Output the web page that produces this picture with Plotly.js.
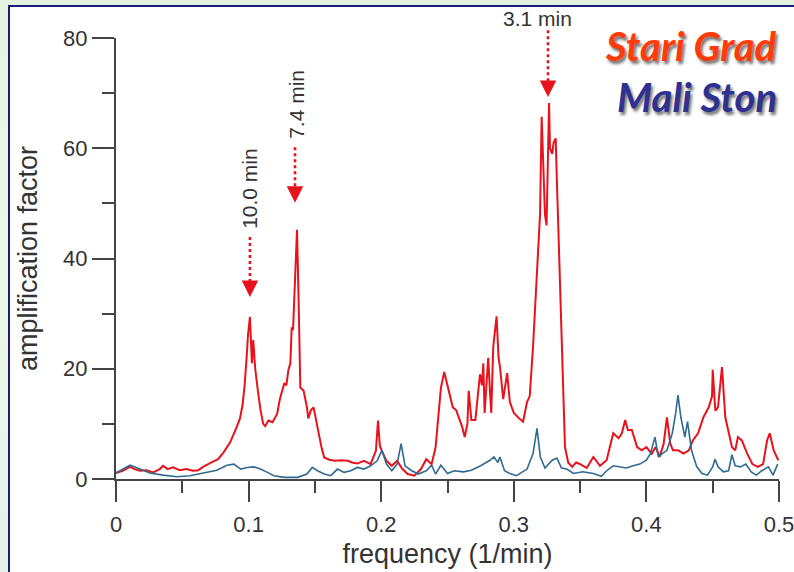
<!DOCTYPE html>
<html>
<head>
<meta charset="utf-8">
<script src="https://cdn.plot.ly/plotly-3.0.1.min.js"></script>
<style>
  html, body { margin: 0; padding: 0; }
  body { width: 794px; height: 572px; overflow: hidden; position: relative;
         background: linear-gradient(180deg, #e6f2e0 0%, #eef8e6 50%, #e3f1ea 100%); }
  #panel { position: absolute; left: 8px; top: 5px; width: 800px; height: 580px;
           background: #ffffff; border: 2px solid #1c1c7c; }
  #chart { position: absolute; left: 0; top: 0; width: 794px; height: 572px; }
</style>
</head>
<body>
<div id="panel"></div>
<div id="chart"></div>
<script>
// ---- Data ----
const stariGradFreq = [0,0.005,0.0106,0.014,0.018,0.023,0.028,0.033,0.0355,0.039,0.043,0.048,0.053,0.058,0.062,0.067,0.072,0.077,0.081,0.086,0.091,0.0935,0.0955,0.097,0.0985,0.0995,0.101,0.102,0.1025,0.1035,0.105,0.107,0.109,0.111,0.1125,0.115,0.118,0.1215,0.1236,0.127,0.1285,0.13,0.1315,0.1325,0.1335,0.135,0.1365,0.1375,0.138,0.139,0.1415,0.144,0.145,0.147,0.149,0.152,0.155,0.157,0.161,0.165,0.17,0.175,0.178,0.182,0.187,0.192,0.196,0.1976,0.199,0.2005,0.204,0.208,0.212,0.216,0.22,0.225,0.23,0.234,0.238,0.241,0.2435,0.245,0.2475,0.25,0.2525,0.254,0.2565,0.259,0.261,0.263,0.265,0.266,0.268,0.271,0.273,0.2745,0.276,0.277,0.278,0.2795,0.2807,0.282,0.283,0.2845,0.286,0.287,0.2885,0.2896,0.292,0.295,0.297,0.3,0.304,0.307,0.31,0.312,0.3145,0.317,0.3198,0.321,0.3221,0.3235,0.3247,0.3255,0.3266,0.3273,0.329,0.33,0.3316,0.3325,0.334,0.3355,0.337,0.3386,0.341,0.344,0.347,0.35,0.355,0.36,0.365,0.37,0.375,0.379,0.3815,0.384,0.386,0.389,0.393,0.3965,0.4,0.404,0.407,0.41,0.413,0.4155,0.418,0.42,0.424,0.428,0.432,0.435,0.439,0.443,0.447,0.4495,0.45,0.452,0.454,0.457,0.4595,0.462,0.4645,0.467,0.469,0.472,0.476,0.48,0.484,0.488,0.491,0.493,0.496,0.4995];
const stariGradAmp = [1.1,1.5,2.2,1.8,1.5,1.6,1.2,1.8,2.4,1.8,2.1,1.6,1.8,1.5,1.6,2.4,3.0,3.6,4.8,6.6,9.4,11,13.5,17,22,26,29.4,22,21,25.2,20,16,12.5,10,9.6,10.6,10.3,11.8,14.5,17.4,17,19.8,21,27.5,27,36,45.2,35,27,16.6,16,13,11,12.5,13,9,5.7,3.9,3.5,3.3,3.4,3.3,3.0,2.8,3.3,2.7,5.1,10.6,6,5.1,3.3,2.4,3.3,1.8,0.9,0.6,1.8,3.6,2.7,5.7,12,16.5,19.4,17,14.5,13,12.5,10.7,9.5,7.6,10,16,10.7,10.7,15,19,17,21,12,18,22,16,12,24,27,29.5,22,20.3,14.5,19.2,14,12,11,10.4,14,15,24,36,48,65.7,57,48,46,54,68.2,60,59,61,61.8,54,42,30,18,5.8,3,2.2,3,2.7,2,4,2.4,3.4,8.3,7.4,8.3,10.7,8.9,8.9,5.8,5.2,5.8,4.6,5.8,4,6.4,11.2,6.4,5.2,5.2,4.6,5.2,7,8.3,11.2,13,15,19.8,12.4,13,20.3,11.2,8.3,5.8,5.2,7.6,7,4.6,2.7,2.2,2.7,7,8.3,5.2,3.4];

const maliStonFreq = [0,0.0106,0.018,0.0256,0.0355,0.046,0.0558,0.066,0.076,0.0837,0.089,0.094,0.099,0.104,0.109,0.1143,0.119,0.127,0.137,0.144,0.148,0.152,0.157,0.162,0.167,0.172,0.177,0.182,0.187,0.192,0.197,0.2005,0.204,0.208,0.212,0.215,0.218,0.223,0.228,0.234,0.238,0.241,0.245,0.25,0.255,0.262,0.268,0.275,0.282,0.285,0.288,0.2895,0.293,0.297,0.302,0.31,0.3145,0.3175,0.32,0.3235,0.329,0.3325,0.336,0.34,0.345,0.352,0.36,0.366,0.37,0.375,0.38,0.385,0.39,0.395,0.4,0.403,0.4065,0.409,0.412,0.4155,0.4195,0.422,0.4238,0.426,0.429,0.431,0.434,0.438,0.442,0.446,0.45,0.4517,0.454,0.458,0.462,0.4645,0.467,0.471,0.475,0.479,0.483,0.487,0.492,0.4955,0.499];
const maliStonAmp = [1.1,2.5,1.8,1.1,0.7,0.4,0.6,1.1,1.6,2.5,2.7,1.8,2.1,2.2,1.8,1.2,0.6,0.3,0.3,0.9,2.1,1.5,0.9,0.6,1.8,1.2,1.5,2.1,1.8,2.4,3.3,5.2,2.7,1.5,2.7,6.4,2.4,1.5,0.9,1.5,2.5,0.9,2.5,1,1.5,1.3,1.6,2.4,3.4,4,3,4,1.5,1,0.6,1.8,4.6,9.2,4,2,3.4,3.8,2,1.8,1,1.3,1,0.5,1.5,2.4,2.2,2,2.4,2.7,3.4,4.6,7.6,4,4.6,5.2,8.3,11.8,15.2,11.2,7.6,10.4,5.2,2.2,1,0.7,2.2,3.6,2.2,1.3,1.5,4.4,2.4,2.2,2.7,1.3,0.7,1.5,2.2,0.7,2.7];

// Period annotations: label, label position, arrow start and arrow tip
const periodLabels   = ["10.0 min", "7.4 min", "3.1 min"];
const labelFreq      = [0.101, 0.1355, 0.318];
const labelAmp       = [52.8, 68.0, 83.6];
const labelAngle     = [-90, -90, 0];
const arrowFreq      = [0.101, 0.135, 0.3258];
const arrowStartAmp  = [43.9, 60.2, 81.4];
const arrowTipAmp    = [33.0, 50.1, 69.3];

const seriesNames  = ["Stari Grad", "Mali Ston"];

const xRange = [0, 0.5];
const yRange = [0, 80];

const traces = [
  { x: stariGradFreq, y: stariGradAmp, type: 'scatter', mode: 'lines', name: seriesNames[0],
    line: { color: '#e8121c', width: 2 }, hoverinfo: 'x+y' },
  { x: maliStonFreq, y: maliStonAmp, type: 'scatter', mode: 'lines', name: seriesNames[1],
    line: { color: '#2f6a90', width: 1.6 }, hoverinfo: 'x+y' }
];

const axisFont = { family: 'Liberation Sans, Arial, sans-serif', size: 22, color: '#333' };
const titleFont = { family: 'Liberation Sans, Arial, sans-serif', size: 27, color: '#333' };

const shapes = [];
const annotations = [];
for (let i = 0; i < periodLabels.length; i++) {
  // paper coordinates (value / range end) so labels above the plot stay visible
  annotations.push({
    x: labelFreq[i] / xRange[1], y: labelAmp[i] / yRange[1], xref: 'paper', yref: 'paper',
    text: periodLabels[i], textangle: labelAngle[i], showarrow: false,
    xanchor: 'center', yanchor: 'middle',
    font: { family: 'Liberation Sans, Arial, sans-serif', size: 21, color: '#333' }
  });
  shapes.push({
    type: 'line', xref: 'paper', yref: 'paper',
    x0: arrowFreq[i] / xRange[1], x1: arrowFreq[i] / xRange[1],
    y0: arrowStartAmp[i] / yRange[1], y1: (arrowTipAmp[i] + 2.5) / yRange[1],
    line: { color: '#e8121c', width: 2.6, dash: 'dot' }
  });
  annotations.push({
    x: arrowFreq[i], y: arrowTipAmp[i], xref: 'x', yref: 'y', text: '',
    showarrow: true, arrowhead: 2, arrowsize: 1.5, arrowwidth: 2.2, arrowcolor: '#e8121c',
    ax: 0, ay: -12
  });
}

annotations.push({
  xref: 'paper', yref: 'paper', x: 1.0, y: 0.982, xanchor: 'right', yanchor: 'middle',
  text: seriesNames[0], showarrow: false,
  font: { family: 'Lato, sans-serif', size: 40, color: '#ff3b0a', weight: 'bold', style: 'italic',
          shadow: '2px 3px 3px rgba(0,0,0,0.55)' }
});
annotations.push({
  xref: 'paper', yref: 'paper', x: 1.0, y: 0.866, xanchor: 'right', yanchor: 'middle',
  text: seriesNames[1], showarrow: false,
  font: { family: 'Lato, sans-serif', size: 40, color: '#2e3192', weight: 'bold', style: 'italic',
          shadow: '2px 3px 3px rgba(0,0,0,0.55)' }
});

const layout = {
  width: 794, height: 572,
  margin: { l: 116, r: 15, t: 38, b: 93 },
  paper_bgcolor: 'rgba(0,0,0,0)', plot_bgcolor: 'rgba(0,0,0,0)',
  showlegend: false,
  xaxis: {
    range: xRange, tick0: 0, dtick: 0.1, showgrid: false, zeroline: false,
    showline: true, linecolor: '#444', linewidth: 2,
    ticks: 'outside', ticklen: 21, tickwidth: 2, tickcolor: '#444',
    minor: { dtick: 0.05, ticks: 'outside', ticklen: 12, tickwidth: 2, tickcolor: '#444', showgrid: false },
    tickfont: axisFont, ticklabeloverflow: 'allow', ticklabelstandoff: 4,
    title: { text: 'frequency (1/min)', font: titleFont, standoff: 8 }
  },
  yaxis: {
    range: yRange, tick0: 0, dtick: 20, showgrid: false, zeroline: false,
    showline: true, linecolor: '#444', linewidth: 2,
    ticks: 'outside', ticklen: 22, tickwidth: 2, tickcolor: '#444',
    minor: { dtick: 10, ticks: 'outside', ticklen: 12, tickwidth: 2, tickcolor: '#444', showgrid: false },
    tickfont: axisFont,
    title: { text: 'amplification factor', font: titleFont, standoff: 18 }
  },
  shapes: shapes,
  annotations: annotations
};

Plotly.newPlot('chart', traces, layout, { displayModeBar: false, staticPlot: true });
</script>
</body>
</html>
